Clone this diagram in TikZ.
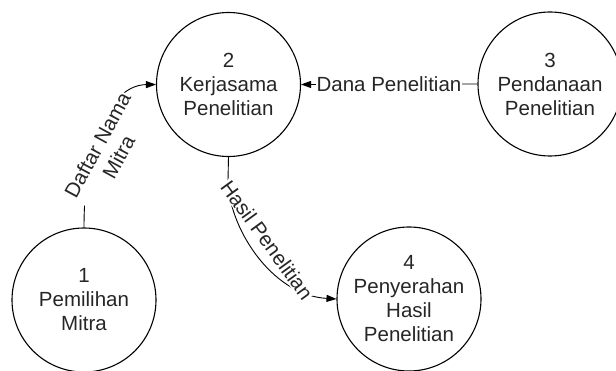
\documentclass[tikz,border=0pt]{standalone}
\usepackage{fontspec}
\setmainfont{Liberation Sans}
\usetikzlibrary{arrows.meta}
\begin{document}
\begin{tikzpicture}[x=1pt,y=-1pt,
  process/.style={draw,circle,line width=1.1pt,minimum size=144pt,inner sep=0pt,
    align=center,font=\fontsize{20.5}{24}\selectfont,text=black!85},
  flow/.style={line width=0.9pt,-{Triangle[length=10pt,width=7pt]}},
  flowlabel/.style={fill=white,inner sep=1pt,align=center,
    font=\fontsize{20.5}{24}\selectfont,text=black!85}]
\useasboundingbox (0,0) rectangle (616,371);

\node[process] (c1) at (84,300) {1\\Pemilihan\\Mitra};
\node[process] (c2) at (228.5,84.5) {2\\Kerjasama\\Penelitian};
\node[process] (c3) at (550,84) {3\\Pendanaan\\Penelitian};
\node[process] (c4) at (409,299) {4\\Penyerahan\\Hasil\\Penelitian};

% data flows
\draw[flow] (c1.north) .. controls (84,130) and (115,85) .. (c2.west);
\draw[flow] (c3.west) -- (c2.east);
\coordinate (h1) at (228,180);
\draw[flow] (c2.south) -- (h1) .. controls (228,225) and (270,295) .. (c4.west);

% flow labels
\node[flowlabel,rotate=61.5] (l1) at (108,151) {Daftar Nama\\Mitra};
\node[flowlabel] (l2) at (389,84) {Dana Penelitian};
\node[flowlabel,rotate=-54] (l3) at (267,240) {Hasil Penelitian};
\end{tikzpicture}
\end{document}
